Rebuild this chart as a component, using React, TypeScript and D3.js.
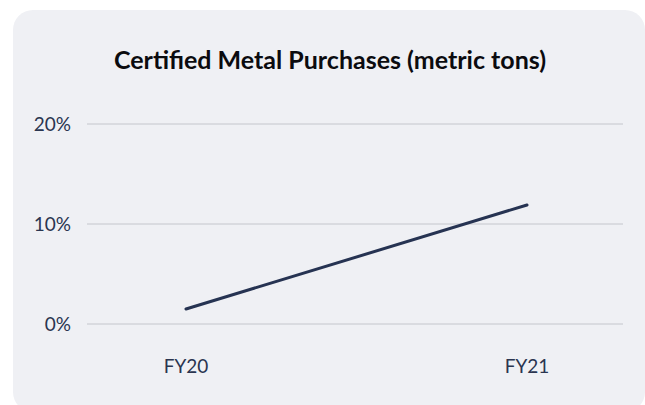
import React from "react";
import * as d3 from "d3";

const categories = ["FY20", "FY21"];
const values = [1.5, 11.9];
const yTicks = [0, 10, 20];
const title = "Certified Metal Purchases (metric tons)";

export default function App() {
  const W = 645, H = 405;
  const x = d3.scalePoint<string>().domain(categories).range([186, 527]);
  const y = d3.scaleLinear().domain([0, 20]).range([324, 124]);
  const line = d3.line<number>().x((_, i) => x(categories[i]) as number).y((d) => y(d));
  return (
    <svg width={W} height={H} style={{ position: "fixed", left: 0, top: 0, display: "block" }}>
      <rect x={0} y={0} width={W} height={H} fill="#ffffff" />
      <rect x={13} y={10} width={632} height={402} rx={20} ry={20} fill="#eff0f4" />
      <text x={330} y={69} textAnchor="middle" fontFamily="Lato" fontWeight={700} fontSize={25} fill="#0b0b0f">{title}</text>
      {yTicks.map((t) => (
        <g key={t}>
          <line x1={87} x2={623} y1={y(t)} y2={y(t)} stroke="#c4c6cc" strokeWidth={1} />
          <text x={71} y={y(t)} dy="0.36em" textAnchor="end" fontFamily="Lato" fontSize={19} fill="#2a3550">{t + "%"}</text>
        </g>
      ))}
      {categories.map((c) => (
        <text key={c} x={x(c)} y={373} textAnchor="middle" fontFamily="Lato" fontSize={19} fill="#2a3550">{c}</text>
      ))}
      <path d={line(values) || ""} fill="none" stroke="#263352" strokeWidth={3} strokeLinecap="round" />
    </svg>
  );
}
